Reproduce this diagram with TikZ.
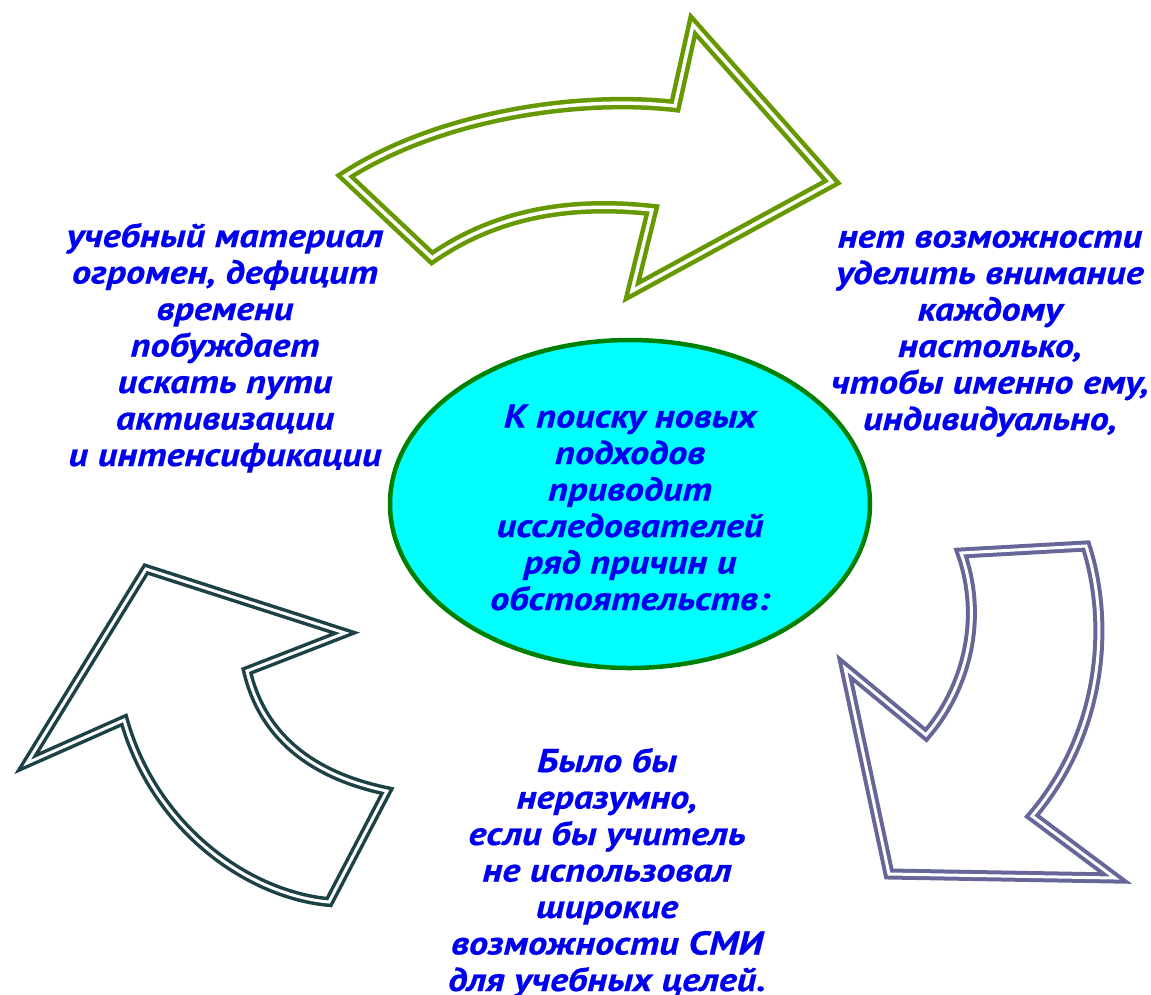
\documentclass[tikz,border=0pt]{standalone}
\usepackage{fontspec}
\newfontfamily\causefont{PT Sans}[FakeStretch=1.16, FakeBold=0.6]
\usetikzlibrary{shapes.geometric}

\definecolor{arrowgreen}{RGB}{102,153,0}
\definecolor{arrowpurple}{RGB}{102,102,153}
\definecolor{arrowteal}{RGB}{28,66,70}
\definecolor{txtblue}{RGB}{0,0,240}
\definecolor{ovalgreen}{RGB}{0,128,0}
\definecolor{ovalcyan}{RGB}{0,255,255}

\tikzset{
  causetext/.style={font=\causefont\bfseries\itshape\fontsize{33}{36.5}\selectfont,
    text=txtblue, align=center, inner sep=0pt, anchor=base},
  bigarrow/.style={fill=white, line width=3.5pt, double=white,
    double distance=3pt, line join=miter},
}

\begin{document}
\begin{tikzpicture}[x=1pt, y=-1pt]
  \useasboundingbox (0,0) rectangle (1151,994);

  % Top arrow (green)
  \draw[bigarrow, draw=arrowgreen, line width=4.5pt, double distance=3.5pt]
    (675,106) .. controls (580,95) and (440,115) .. (345,176)
    -- (432,258) .. controls (490,218) and (560,200) .. (652,210)
    -- (632,291) -- (832,182) -- (693,25) -- cycle;

  % Right arrow (purple)
  \draw[bigarrow, draw=arrowpurple, line width=4pt]
    (926,735) .. controls (965,690) and (985,620) .. (961,553)
    -- (1086,546) .. controls (1110,620) and (1105,730) .. (1032,816)
    -- (1115,878) -- (889,874) -- (845,668) -- cycle;

  % Left arrow (teal)
  \draw[bigarrow, draw=arrowteal]
    (146,569) -- (345,633) -- (247,671)
    .. controls (262,735) and (310,775) .. (387,791)
    -- (329,902) .. controls (250,895) and (155,830) .. (124,720)
    -- (27,763) -- cycle;

  % Central oval
  \node[ellipse, draw=ovalgreen, line width=4.5pt, fill=ovalcyan,
    minimum width=480, minimum height=328] (core) at (630,504) {};
  \node[causetext] (reasons) at (630,610)
    {К поиску новых\\подходов\\приводит\\исследователей\\ряд причин и\\обстоятельств:};

  % Texts around the oval (anchored at the last baseline)
  \node[causetext] (volume) at (225,466)
    {учебный материал\\огромен, дефицит\\времени\\побуждает\\искать пути\\активизации\\и интенсификации};
  \node[causetext] (attention) at (990,430)
    {нет возможности\\уделить внимание\\каждому\\настолько,\\чтобы именно ему,\\индивидуально,};
  \node[causetext] (media) at (607,991)
    {Было бы\\неразумно,\\если бы учитель\\не использовал\\широкие\\возможности СМИ\\для учебных целей.};
\end{tikzpicture}
\end{document}
